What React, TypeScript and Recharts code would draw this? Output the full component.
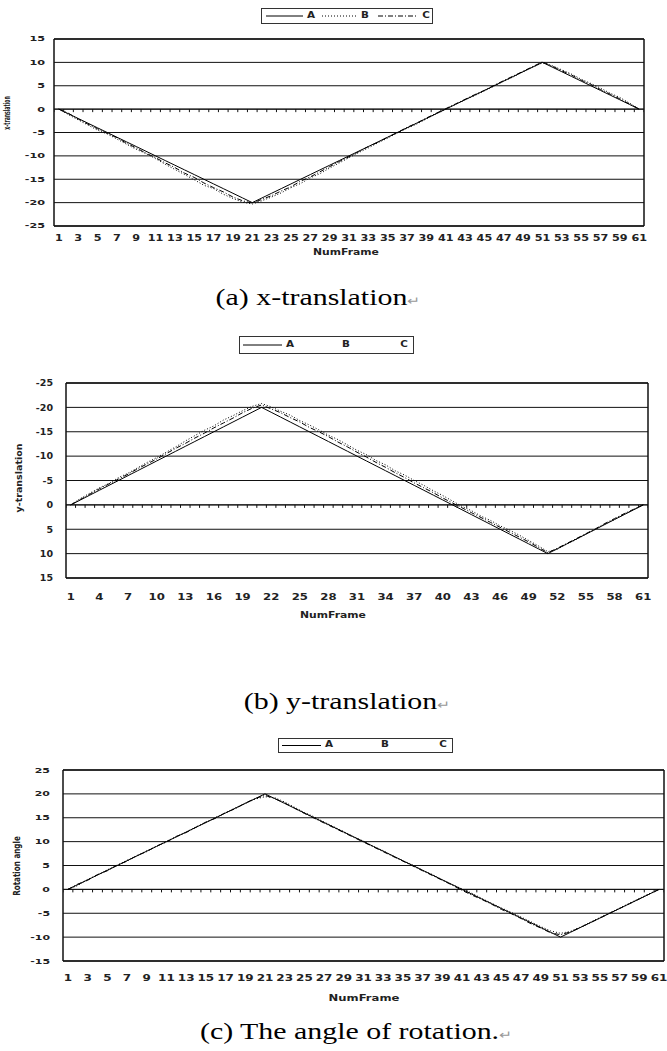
import React from 'react'
import {
  CartesianGrid,
  ComposedChart,
  Line,
  ReferenceLine,
  Scatter,
  XAxis,
  YAxis,
} from 'recharts'

// frame numbers (categories)
const FRAMES = [
  1, 2, 3, 4, 5, 6, 7, 8, 9, 10, 11, 12, 13, 14, 15, 16, 17, 18, 19, 20, 21, 22, 23, 24, 25, 26, 27, 28, 29, 30,
  31, 32, 33, 34, 35, 36, 37, 38, 39, 40, 41, 42, 43, 44, 45, 46, 47, 48, 49, 50, 51, 52, 53, 54, 55, 56, 57, 58,
  59, 60, 61,
]
const X_TICKS_ODD = [1, 3, 5, 7, 9, 11, 13, 15, 17, 19, 21, 23, 25, 27, 29, 31, 33, 35, 37, 39, 41, 43, 45, 47, 49, 51, 53, 55, 57, 59, 61]
const X_TICKS_THIRD = [1, 4, 7, 10, 13, 16, 19, 22, 25, 28, 31, 34, 37, 40, 43, 46, 49, 52, 55, 58, 61]
const TRANS_TICKS = [-25, -20, -15, -10, -5, 0, 5, 10, 15]
const ROT_TICKS = [-15, -10, -5, 0, 5, 10, 15, 20, 25]
const SERIES_NAMES = ['A', 'B', 'C']

// (a) x-translation
const X_A = [0, -1, -2, -3, -4, -5, -6, -7, -8, -9, -10, -11, -12, -13, -14, -15, -16, -17, -18, -19, -20, -19, -18, -17, -16, -15, -14, -13, -12, -11, -10, -9, -8, -7, -6, -5, -4, -3, -2, -1, 0, 1, 2, 3, 4, 5, 6, 7, 8, 9, 10, 9, 8, 7, 6, 5, 4, 3, 2, 1, 0]
const X_B = [0, -1.2, -2.3, -3.4, -4.5, -5.3, -6.4, -7.5, -8.6, -9.5, -10.6, -11.8, -12.9, -14.0, -15.1, -16.3, -17.0, -18.2, -19.1, -19.9, -20.3, -19.6, -18.8, -17.9, -16.8, -15.9, -14.7, -13.8, -12.6, -11.5, -10.4, -9.3, -8.3, -7.2, -6.2, -5.1, -4.1, -3.2, -2.1, -1.0, 0.0, 1.0, 2.0, 2.9, 3.9, 4.9, 6.0, 6.9, 8.0, 9.0, 9.9, 9.3, 8.4, 7.5, 6.4, 5.5, 4.5, 3.4, 2.5, 1.3, 0]
const X_C = [0, -0.9, -2.1, -3.2, -4.2, -5.2, -6.1, -7.3, -8.3, -9.4, -10.4, -11.5, -12.5, -13.7, -14.6, -15.8, -16.8, -17.7, -18.8, -19.6, -20.1, -19.3, -18.5, -17.5, -16.6, -15.4, -14.5, -13.4, -12.3, -11.2, -10.2, -9.1, -8.0, -7.1, -6.0, -5.0, -3.9, -3.0, -1.9, -0.9, 0.1, 1.1, 2.1, 3.1, 4.0, 5.1, 6.1, 7.1, 8.1, 9.1, 10.1, 9.2, 8.2, 7.3, 6.2, 5.3, 4.2, 3.2, 2.2, 1.1, 0]

// (b) y-translation
const Y_A = [0, -1, -2, -3, -4, -5, -6, -7, -8, -9, -10, -11, -12, -13, -14, -15, -16, -17, -18, -19, -20, -19, -18, -17, -16, -15, -14, -13, -12, -11, -10, -9, -8, -7, -6, -5, -4, -3, -2, -1, 0, 1, 2, 3, 4, 5, 6, 7, 8, 9, 10, 9, 8, 7, 6, 5, 4, 3, 2, 1, 0]
const Y_B = [0, -1.3, -2.4, -3.5, -4.4, -5.6, -6.5, -7.6, -8.7, -9.7, -10.8, -11.9, -13.1, -14.2, -15.3, -16.2, -17.4, -18.3, -19.3, -20.2, -20.8, -20.1, -19.2, -18.4, -17.3, -16.4, -15.4, -14.3, -13.4, -12.3, -11.2, -10.3, -9.1, -8.2, -7.0, -6.1, -5.0, -4.0, -2.9, -1.9, -0.8, 0.3, 1.2, 2.3, 3.2, 4.3, 5.2, 6.2, 7.3, 8.4, 9.6, 9.1, 8.0, 7.1, 6.0, 5.0, 3.9, 3.0, 1.9, 1.0, 0]
const Y_C = [0, -1.1, -2.2, -3.3, -4.3, -5.3, -6.3, -7.4, -8.4, -9.4, -10.5, -11.6, -12.6, -13.7, -14.7, -15.8, -16.8, -17.8, -18.9, -19.8, -20.5, -19.7, -18.9, -17.9, -17.0, -15.9, -15.0, -14.0, -12.9, -11.9, -10.8, -9.8, -8.7, -7.7, -6.6, -5.6, -4.5, -3.5, -2.5, -1.4, -0.4, 0.6, 1.6, 2.6, 3.6, 4.6, 5.6, 6.6, 7.6, 8.7, 9.8, 8.9, 7.9, 6.9, 5.9, 4.9, 3.8, 2.8, 1.8, 0.9, 0]

// (c) rotation angle
const R_A = [0, 1, 2, 3, 4, 5, 6, 7, 8, 9, 10, 11, 12, 13, 14, 15, 16, 17, 18, 19, 20, 19, 18, 17, 16, 15, 14, 13, 12, 11, 10, 9, 8, 7, 6, 5, 4, 3, 2, 1, 0, -1, -2, -3, -4, -5, -6, -7, -8, -9, -10, -9, -8, -7, -6, -5, -4, -3, -2, -1, 0]
const R_B = [0, 0.8, 2.1, 3.0, 4.1, 5.0, 6.1, 7.0, 8.1, 9.0, 10.1, 11.0, 12.0, 13.1, 14.0, 15.1, 16.0, 17.1, 18.0, 18.9, 19.4, 19.2, 18.3, 17.2, 16.1, 15.2, 14.1, 13.1, 12.1, 11.0, 10.1, 9.0, 8.1, 7.0, 6.0, 5.1, 4.0, 3.1, 2.0, 1.0, 0.1, -0.8, -1.9, -2.9, -3.9, -4.8, -5.8, -6.8, -7.8, -8.7, -9.2, -8.8, -7.9, -6.9, -5.9, -4.9, -3.9, -2.9, -1.9, -0.9, 0]
const R_C = [0, 1.1, 1.9, 3.1, 3.9, 5.1, 5.9, 7.1, 7.9, 9.1, 9.9, 11.1, 11.9, 13.0, 14.1, 14.9, 16.1, 16.9, 18.1, 19.0, 19.7, 19.0, 18.1, 17.0, 15.9, 14.9, 13.9, 12.9, 11.9, 10.9, 9.9, 8.9, 7.9, 6.9, 5.9, 4.9, 3.9, 2.9, 1.9, 0.9, -0.2, -1.2, -2.1, -3.1, -4.2, -5.1, -6.1, -7.2, -8.1, -9.1, -9.5, -8.9, -8.0, -7.0, -6.0, -5.0, -4.0, -3.0, -2.0, -1.0, 0]

const SANS = '"DejaVu Sans", Verdana, sans-serif'
const SERIF = '"Liberation Serif", "Times New Roman", serif'
const INK = '#111'
const TEXT_INK = '#222'
const DASH_B = '1 2'
const DASH_C = '5 2 1 2'

interface PanelCfg {
  left: number
  right: number
  top: number
  bottom: number
  yTickSize: number
  yTickSx: number
  yTickMargin: number
  xTickSize: number
  xTickSx: number
  xTickMargin: number
}

const CFG_X: PanelCfg = { left: 54, right: 644, top: 39, bottom: 226, yTickSize: 7, yTickSx: 1.6, yTickMargin: 3, xTickSize: 8, xTickSx: 1.4, xTickMargin: 3 }
const CFG_Y: PanelCfg = { left: 66, right: 648, top: 383, bottom: 578, yTickSize: 9.5, yTickSx: 1, yTickMargin: 7, xTickSize: 9, xTickSx: 1.3, xTickMargin: 10 }
const CFG_R: PanelCfg = { left: 63, right: 664, top: 770, bottom: 961, yTickSize: 7.3, yTickSx: 1.5, yTickMargin: 7, xTickSize: 8, xTickSx: 1.5, xTickMargin: 8 }

function StretchTick(props: any) {
  const { x, y, payload, size, sx, anchor, dy } = props
  return (
    <g transform={`translate(${x},${y}) scale(${sx},1)`}>
      <text textAnchor={anchor} dy={dy} fontSize={size} fontWeight={700} fontFamily={SANS} fill={TEXT_INK}>
        {payload.value}
      </text>
    </g>
  )
}

function ZeroTick(props: any) {
  return <line x1={props.cx} x2={props.cx} y1={props.cy} y2={props.cy + 3} stroke={INK} strokeWidth={1} />
}

interface StretchTextProps {
  x: number
  y: number
  text: React.ReactNode
  size: number
  sx?: number
  sy?: number
  rotate?: number
  weight?: number
  family?: string
}

function StretchText({ x, y, text, size, sx = 1, sy = 1, rotate = 0, weight = 700, family = SANS }: StretchTextProps) {
  return (
    <div
      style={{
        position: 'absolute',
        left: x,
        top: y,
        transform: `translate(-50%, -50%) rotate(${rotate}deg) scale(${sx}, ${sy})`,
        fontFamily: family,
        fontSize: size,
        fontWeight: weight,
        lineHeight: 1,
        whiteSpace: 'nowrap',
        color: TEXT_INK,
      }}
    >
      {text}
    </div>
  )
}

interface PanelProps {
  cfg: PanelCfg
  a: number[]
  b: number[]
  c: number[]
  yTicks: number[]
  xTicks: number[]
  reversed?: boolean
}

function Panel({ cfg, a, b, c, yTicks, xTicks, reversed }: PanelProps) {
  const data = FRAMES.map((frame, i) => ({ frame, A: a[i], B: b[i], C: c[i] }))
  const xDomain = [FRAMES[0] - 0.5, FRAMES[FRAMES.length - 1] + 0.5]
  const bounds = [...FRAMES.map((f) => f - 0.5), xDomain[1]]
  const zeroMarks = bounds.map((frame) => ({ frame, mark: 0 }))
  const plotH = cfg.bottom - cfg.top

  return (
    <div style={{ position: 'absolute', left: 0, top: cfg.top - 10 }}>
      <ComposedChart
        width={667}
        height={plotH + 60}
        data={data}
        margin={{ top: 10, right: 667 - cfg.right, bottom: 0, left: 0 }}
      >
        <CartesianGrid vertical={false} stroke={INK} strokeWidth={1} />
        <XAxis
          dataKey="frame"
          type="number"
          domain={xDomain}
          ticks={xTicks}
          interval={0}
          allowDataOverflow
          axisLine={false}
          tickLine={false}
          height={50}
          tickMargin={cfg.xTickMargin}
          tick={(p: any) => <StretchTick {...p} size={cfg.xTickSize} sx={cfg.xTickSx} anchor="middle" dy="0.71em" />}
        />
        <YAxis
          type="number"
          domain={[yTicks[0], yTicks[yTicks.length - 1]]}
          ticks={yTicks}
          interval={0}
          reversed={reversed}
          width={cfg.left}
          axisLine={{ stroke: INK, strokeWidth: 1.5 }}
          tickLine={false}
          tickMargin={cfg.yTickMargin}
          tick={(p: any) => <StretchTick {...p} size={cfg.yTickSize} sx={cfg.yTickSx} anchor="end" dy="0.35em" />}
        />
        <ReferenceLine x={xDomain[1]} stroke={INK} strokeWidth={1.5} />
        <ReferenceLine y={yTicks[0]} stroke={INK} strokeWidth={1.5} />
        <ReferenceLine y={yTicks[yTicks.length - 1]} stroke={INK} strokeWidth={1.5} />
        <ReferenceLine y={0} stroke={INK} strokeWidth={1} />
        <Scatter data={zeroMarks} dataKey="mark" shape={ZeroTick} isAnimationActive={false} />
        <Line type="linear" dataKey="C" stroke="#000" strokeWidth={1} strokeDasharray={DASH_C} dot={false} isAnimationActive={false} />
        <Line type="linear" dataKey="B" stroke="#000" strokeWidth={1} strokeDasharray={DASH_B} dot={false} isAnimationActive={false} />
        <Line type="linear" dataKey="A" stroke="#000" strokeWidth={1} dot={false} isAnimationActive={false} />
      </ComposedChart>
    </div>
  )
}

interface LegendItem {
  from?: number
  to?: number
  dash?: string
  textX: number
}

function LegendBox({ left, top, width, height, items }: { left: number; top: number; width: number; height: number; items: LegendItem[] }) {
  return (
    <div
      style={{
        position: 'absolute',
        left,
        top,
        width,
        height,
        boxSizing: 'border-box',
        border: '1.5px solid #333',
        background: '#fff',
      }}
    >
      <svg width={width} height={height} style={{ position: 'absolute', left: -1.5, top: -1.5 }}>
        {items.map((it, i) =>
          it.from !== undefined ? (
            <line key={i} x1={it.from} x2={it.to} y1={height / 2} y2={height / 2} stroke="#000" strokeWidth={1} strokeDasharray={it.dash} />
          ) : null,
        )}
      </svg>
      {items.map((it, i) => (
        <StretchText key={i} x={it.textX - 1.5} y={height / 2 - 1.5} text={SERIES_NAMES[i]} size={8} sx={1.3} />
      ))}
    </div>
  )
}

function Caption({ x, y, text }: { x: number; y: number; text: string }) {
  return (
    <StretchText
      x={x}
      y={y}
      size={23}
      sx={1.3}
      weight={400}
      family={SERIF}
      text={
        <span style={{ color: '#000' }}>
          {text}
          <span style={{ fontSize: 12, color: '#999' }}>↵</span>
        </span>
      }
    />
  )
}

export default function App() {
  return (
    <div style={{ position: 'absolute', left: 0, top: 0, width: 667, height: 1051, background: '#fff', overflow: 'hidden' }}>
      {/* (a) */}
      <LegendBox
        left={261}
        top={8}
        width={172}
        height={16}
        items={[
          { from: 5, to: 42, textX: 50 },
          { from: 61, to: 97, dash: DASH_B, textX: 104 },
          { from: 117, to: 157, dash: DASH_C, textX: 165 },
        ]}
      />
      <Panel cfg={CFG_X} a={X_A} b={X_B} c={X_C} yTicks={TRANS_TICKS} xTicks={X_TICKS_ODD} />
      <StretchText x={9} y={113} text="x-translation" size={4.6} sy={2} rotate={-90} />
      <StretchText x={346} y={253} text="NumFrame" size={8} sx={1.35} />
      <Caption x={318} y={297} text="(a) x-translation" />

      {/* (b) */}
      <LegendBox
        left={239}
        top={336}
        width={175}
        height={18}
        items={[{ from: 4, to: 43, textX: 51 }, { textX: 107 }, { textX: 165 }]}
      />
      <Panel cfg={CFG_Y} a={Y_A} b={Y_B} c={Y_C} yTicks={TRANS_TICKS} xTicks={X_TICKS_THIRD} reversed />
      <StretchText x={19} y={478} text="y-translation" size={9.5} rotate={-90} />
      <StretchText x={333} y={616} text="NumFrame" size={8} sx={1.35} />
      <Caption x={347} y={701} text="(b) y-translation" />

      {/* (c) */}
      <LegendBox
        left={278}
        top={738}
        width={175}
        height={15}
        items={[{ from: 4, to: 43, textX: 51 }, { textX: 107 }, { textX: 165 }]}
      />
      <Panel cfg={CFG_R} a={R_A} b={R_B} c={R_C} yTicks={ROT_TICKS} xTicks={X_TICKS_ODD} />
      <StretchText x={17} y={866} text="Rotation angle" size={7.2} sy={1.35} rotate={-90} />
      <StretchText x={364} y={999} text="NumFrame" size={8} sx={1.45} />
      <Caption x={356} y={1031} text="(c) The angle of rotation." />
    </div>
  )
}
